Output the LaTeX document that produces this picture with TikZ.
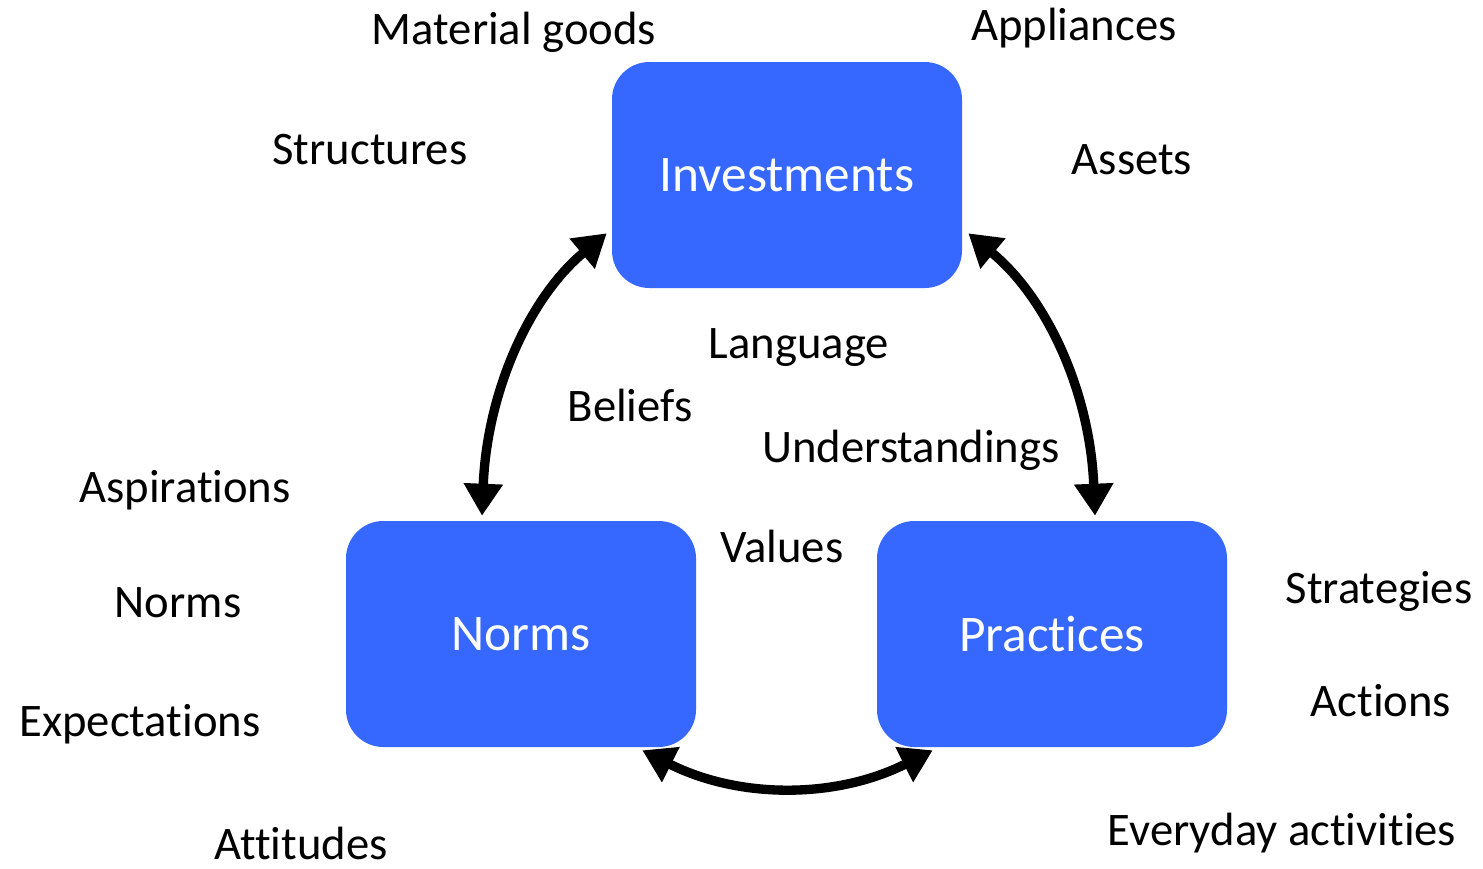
\documentclass[tikz,border=0pt]{standalone}
\usepackage{fontspec}
\setmainfont{Carlito}[Ligatures={NoCommon,NoRare,NoContextual}]
\usetikzlibrary{arrows.meta,calc}
\definecolor{boxblue}{HTML}{3668FF}
\begin{document}
\begin{tikzpicture}[x=0.75pt,y=-0.75pt,
  box/.style={fill=boxblue,draw=none,rounded corners=28pt,minimum width=262.5pt,minimum height=169.5pt,text=white,font=\fontsize{38.5}{40}\selectfont,inner sep=0pt},
  lbl/.style={anchor=base,font=\fontsize{35}{38}\selectfont,inner sep=0pt},
  link/.style={line width=7pt,{Triangle[width=28pt,length=24pt]}-{Triangle[width=28pt,length=24pt]}}]
\useasboundingbox (0,0) rectangle (1483,868);
\node[box] (inv) at (787,175) {Investments};
\node[box] (norms) at (521,634) {Norms};
\node[box] (prac) at (1052,634) {Practices};
\node[lbl] (t1) at (514,44) {Material goods};
\node[lbl] (t2) at (1074,40) {Appliances};
\node[lbl] (t3) at (370,164) {Structures};
\node[lbl] (t4) at (1132,174) {Assets};
\node[lbl] (t5) at (799,358) {Language};
\node[lbl] (t6) at (630,421) {Beliefs};
\node[lbl] (t7) at (911,462) {Understandings};
\node[lbl] (t8) at (185,502) {Aspirations};
\node[lbl] (t9) at (782,562) {Values};
\node[lbl] (t10) at (1379,603) {Strategies};
\node[lbl] (t11) at (178,617) {Norms};
\node[lbl] (t12) at (1381,716) {Actions};
\node[lbl] (t13) at (140,736) {Expectations};
\node[lbl] (t14) at (1282,845) {Everyday act\kern0pt ivit\kern0pt ies};
\node[lbl] (t15) at (301,859) {Att\kern0pt itudes};
\coordinate (a1) at ($(inv.south west)+(-5,-55)$);
\coordinate (a2) at ($(norms.north)+(-39,-5)$);
\coordinate (b1) at ($(inv.south east)+(6,-55)$);
\coordinate (b2) at ($(prac.north)+(43,-5)$);
\coordinate (c1) at ($(norms.south east)+(-54,3)$);
\coordinate (c2) at ($(prac.south west)+(56,3)$);
\draw[link] (a2) .. controls (487,392) and (529,298) .. (a1);
\draw[link] (b2) .. controls (1090,392) and (1047,298) .. (b1);
\draw[link] (c1) .. controls (739,799) and (836,799) .. (c2);
\end{tikzpicture}
\end{document}
